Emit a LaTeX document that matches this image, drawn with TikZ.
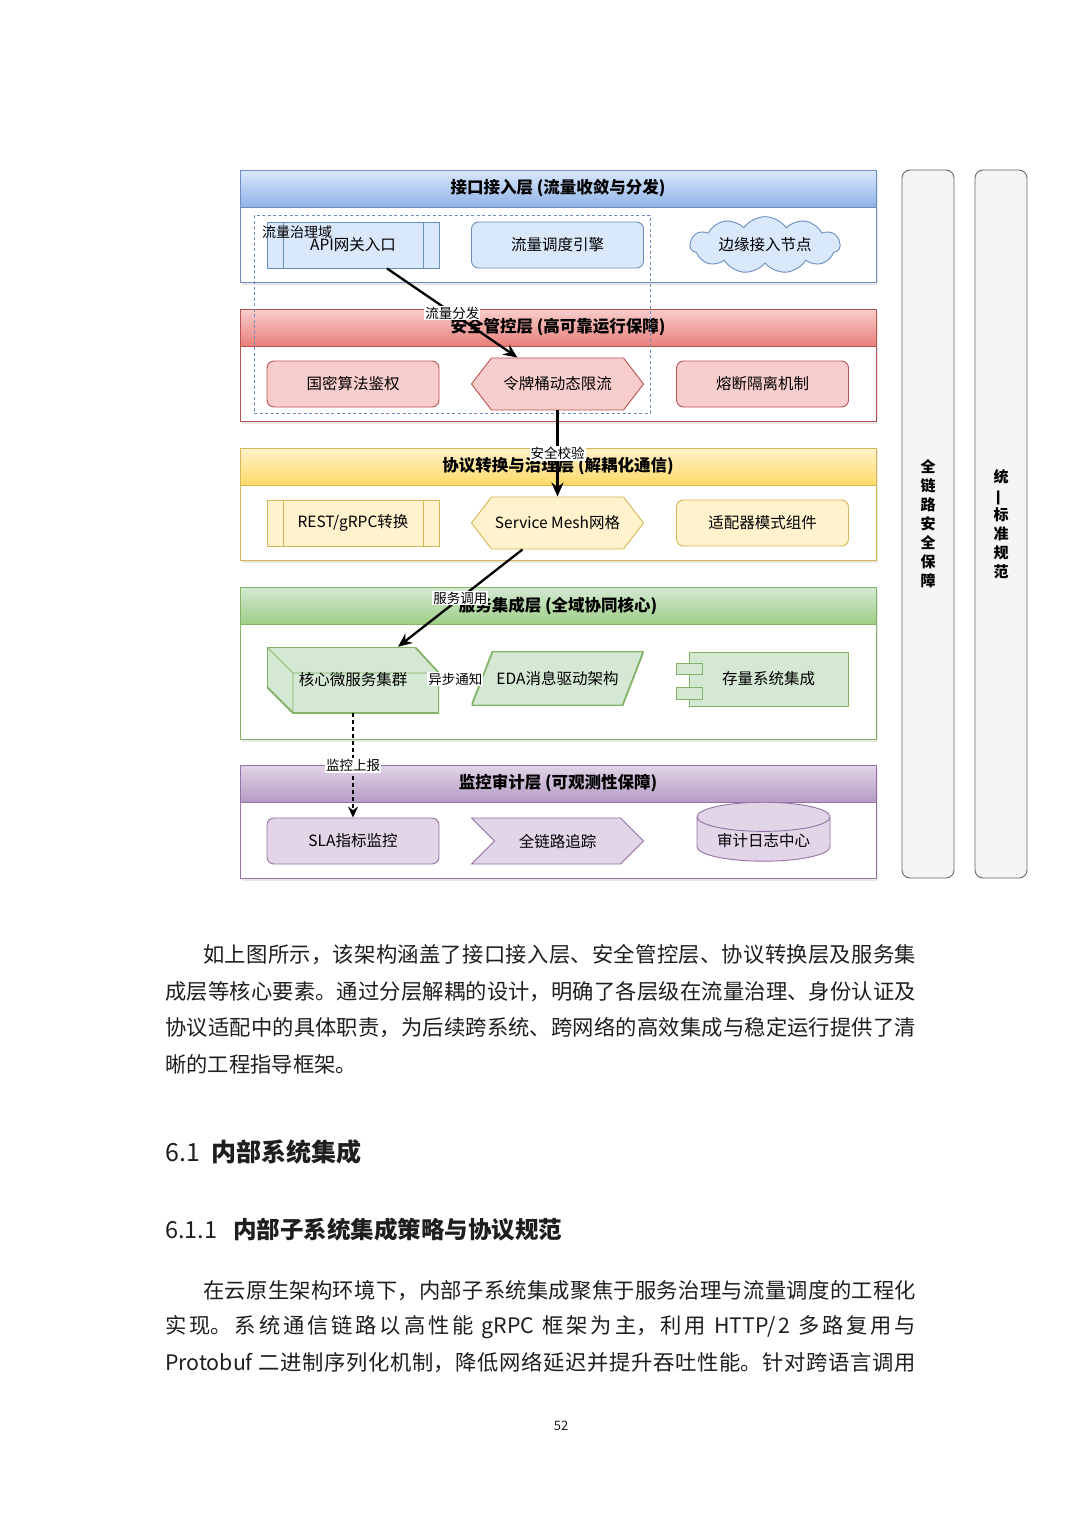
\documentclass[tikz,border=0pt]{standalone}
\usepackage{fontspec}
\setmainfont{Noto Sans CJK SC}
\usetikzlibrary{
  arrows.meta,
  positioning,
  shapes.geometric,
  shapes.symbols,
  shadows,
  calc,
}
\XeTeXlinebreaklocale "zh"
\XeTeXlinebreakskip=0pt plus 2pt

\definecolor{lnblue}{HTML}{6C8EBF}
\definecolor{bgblue}{HTML}{DAE8FC}
\definecolor{hdblue}{HTML}{8FB3E6}
\definecolor{lnred}{HTML}{B85450}
\definecolor{bgred}{HTML}{F8CECC}
\definecolor{hdred}{HTML}{EA7F7B}
\definecolor{lnyellow}{HTML}{D6B656}
\definecolor{bgyellow}{HTML}{FFF2CC}
\definecolor{hdyellow}{HTML}{FFD966}
\definecolor{lngreen}{HTML}{82B366}
\definecolor{bggreen}{HTML}{D5E8D4}
\definecolor{hdgreen}{HTML}{9DCF86}
\definecolor{lnpurple}{HTML}{9673A6}
\definecolor{bgpurple}{HTML}{E1D5E7}
\definecolor{hdpurple}{HTML}{B59BC4}
\definecolor{bargray}{HTML}{F5F5F5}
\definecolor{barline}{HTML}{666666}
\definecolor{inkgray}{HTML}{1E1E1E}

\newcommand{\fsz}[1]{\fontsize{#1}{#1}\selectfont}
\def\ppb{path picture bounding box}

\begin{document}
\begin{tikzpicture}[x=1pt, y=-1pt,
    laybox/.style={draw=ln#1, fill=white, line width=.9pt,
      drop shadow={shadow xshift=2pt, shadow yshift=-3pt, opacity=.18}},
    band/.style={draw=ln#1, top color=bg#1, bottom color=hd#1, line width=.9pt},
    laytitle/.style={font=\fsz{16.5}\bfseries, inner sep=1pt},
    part/.style={draw=ln#1, fill=bg#1, line width=.9pt, minimum width=172pt,
      minimum height=46pt, inner sep=2pt, font=\fsz{15.5}},
    rbox/.style={part=#1, rounded corners=7pt},
    proc/.style={part=#1, path picture={
        \draw[ln#1, line width=.9pt]
          ([xshift=16pt]\ppb.north west) -- ([xshift=16pt]\ppb.south west)
          ([xshift=-16pt]\ppb.north east) -- ([xshift=-16pt]\ppb.south east);}},
    hexa/.style={part=#1, signal, signal to=east and west,
      signal pointer angle=105, minimum height=52pt},
    chev/.style={part=#1, signal, signal from=west, signal to=east,
      signal pointer angle=90},
    slant/.style={minimum width=172pt, minimum height=54pt, inner sep=2pt,
      font=\fsz{15.5}, path picture={
        \filldraw[fill=bg#1, draw=ln#1, line width=1.8pt]
          ([xshift=21pt]\ppb.north west) -- (\ppb.north east)
          -- ([xshift=-21pt]\ppb.south east) -- (\ppb.south west) -- cycle;}},
    cubebox/.style={minimum width=172pt, minimum height=66pt, inner sep=2pt,
      font=\fsz{15.5}, path picture={
        \filldraw[fill=bg#1, draw=ln#1, line width=1.8pt, line join=round]
          (\ppb.north west) -- ([xshift=-24pt]\ppb.north east)
          -- ([yshift=-26pt]\ppb.north east) -- (\ppb.south east)
          -- ([xshift=26pt]\ppb.south west) -- ([yshift=26pt]\ppb.south west) -- cycle;
        \draw[ln#1, line width=.9pt]
          (\ppb.north west) -- ([xshift=26pt,yshift=-26pt]\ppb.north west)
          -- ([yshift=-26pt]\ppb.north east)
          ([xshift=26pt,yshift=-26pt]\ppb.north west) -- ([xshift=26pt]\ppb.south west);}},
    flow/.style={draw=black, line width=2.3pt, -{Stealth[length=14pt, width=12pt]}},
    edgetxt/.style={fill=white, inner sep=1pt, font=\fsz{13.5}},
    bar/.style={draw=barline, fill=bargray, rounded corners=8pt, line width=.9pt,
      minimum width=52pt, minimum height=708pt, align=center,
      font=\fontsize{15}{19}\selectfont\bfseries},
    bodyline/.style={anchor=west, inner sep=0pt, align=justify, text=inkgray,
      font=\fsz{21.3}, execute at begin node={\parindent=0pt\noindent\parfillskip=0pt\relax}},
    bodyend/.style={anchor=west, inner sep=0pt, text=inkgray, font=\fsz{21.3}},
  ]
  \fill[white] (0,0) rectangle (1080,1528);
  \useasboundingbox (0,0) rectangle (1080,1528);

  % five layers
  \foreach \n/\ya/\yb/\c/\txt in {
      acc/170/282/blue/{接口接入层 (流量收敛与分发)},
      sec/309/421/red/{安全管控层 (高可靠运行保障)},
      pro/448/560/yellow/{协议转换与治理层 (解耦化通信)},
      svc/587/739/green/{服务集成层 (全域协同核心)},
      mon/765/878/purple/{监控审计层 (可观测性保障)}}
  {
    \draw[laybox=\c] (240,\ya) rectangle (876,\yb);
    \draw[band=\c] (240,\ya) rectangle (876,\ya+37);
    \node[laytitle] (\n) at (558,\ya+18.5) {\txt};
  }

  % traffic domain
  \node[draw=lnblue, dash pattern=on 3pt off 2.5pt, line width=.8pt,
    minimum width=396pt, minimum height=198pt] (domain) at (452,314) {};

  % access layer
  \node[proc=blue] (api) at (353,245) {API网关入口};
  \node[rbox=blue] (sched) at (557.5,245) {流量调度引擎};
  \node[part=blue, cloud, cloud puffs=11, cloud puff arc=110, aspect=3.6,
    minimum width=150pt, minimum height=40pt] (edgeacc) at (765,245) {边缘接入节点};
  \node[anchor=west, inner sep=0pt, font=\fsz{14}] (domtxt) at (262,232) {流量治理域};

  % security layer
  \node[rbox=red] (sm) at (353,384) {国密算法鉴权};
  \node[hexa=red] (bucket) at (557.5,384) {令牌桶动态限流};
  \node[rbox=red] (fuse) at (762.5,384) {熔断隔离机制};

  % protocol layer
  \node[proc=yellow] (rest) at (353,523) {REST/gRPC转换};
  \node[hexa=yellow] (mesh) at (557.5,523) {Service Mesh网格};
  \node[rbox=yellow] (adapt) at (762.5,523) {适配器模式组件};

  % service layer
  \node[cubebox=green] (core) at (353,680) {核心微服务集群};
  \node[slant=green] (eda) at (557.5,678.5) {EDA消息驱动架构};
  \node[part=green, minimum width=159pt, minimum height=54pt] (comp) at (768.5,679) {存量系统集成};
  \draw[lngreen, fill=bggreen, line width=.9pt]
    ([xshift=-12pt,yshift=16pt]comp.west) rectangle ([xshift=14pt,yshift=5pt]comp.west)
    ([xshift=-12pt,yshift=-8pt]comp.west) rectangle ([xshift=14pt,yshift=-20pt]comp.west);

  % monitor layer
  \node[rbox=purple] (sla) at (353,841) {SLA指标监控};
  \node[chev=purple] (trace) at (557.5,841) {全链路追踪};
  \node[part=purple, cylinder, shape border rotate=90, aspect=.3,
    minimum width=133pt, minimum height=58pt] (audit) at (763.5,841) {审计日志中心};

  % flows
  \draw[flow] ([xshift=34pt]api.south) -- node[edgetxt] {流量分发} ([xshift=-40pt]bucket.north);
  \draw[flow] (bucket.south) -- node[edgetxt] {安全校验} (mesh.north);
  \draw[flow] ([xshift=-35pt]mesh.south) -- node[edgetxt] {服务调用} ([xshift=45pt]core.north);
  \draw[black, thin] (core.east) -- node[edgetxt] {异步通知} (eda.west);
  \draw[black, line width=1.3pt, dash pattern=on 4pt off 3pt, -{Stealth[length=11pt, width=10pt]}]
    (core.south) -- node[edgetxt] {监控上报} (sla.north);

  % side bars
  \node[bar] (guard) at (928,524) {全\\链\\路\\安\\全\\保\\障};
  \node[bar] (norm) at (1001,524) {统\\\rotatebox[origin=c]{90}{一}\\标\\准\\规\\范};

  % text below
  \node[bodyline, text width=713pt] (p1a) at (203,955) {如上图所示，该架构涵盖了接口接入层、安全管控层、协议转换层及服务集};
  \node[bodyline, text width=751pt] (p1b) at (165,992) {成层等核心要素。通过分层解耦的设计，明确了各层级在流量治理、身份认证及};
  \node[bodyline, text width=751pt] (p1c) at (165,1028) {协议适配中的具体职责，为后续跨系统、跨网络的高效集成与稳定运行提供了清};
  \node[bodyend] (p1d) at (165,1064) {晰的工程指导框架。};

  \node[anchor=west, inner sep=0pt, text=inkgray, font=\fsz{25}\bfseries] (h61) at (165,1152)
    {{\mdseries 6.1}\hspace{12pt}内部系统集成};
  \node[anchor=west, inner sep=0pt, text=inkgray, font=\fsz{23.5}\bfseries] (h611) at (165,1230)
    {{\mdseries 6.1.1}\hspace{16pt}内部子系统集成策略与协议规范};

  \node[bodyline, text width=713pt] (p2a) at (203,1291) {在云原生架构环境下，内部子系统集成聚焦于服务治理与流量调度的工程化};
  \node[bodyline, text width=751pt] (p2b) at (165,1327) {实现。系统通信链路以高性能 gRPC 框架为主，利用 HTTP/2 多路复用与};
  \node[bodyline, text width=751pt] (p2c) at (165,1363) {Protobuf 二进制序列化机制，降低网络延迟并提升吞吐性能。针对跨语言调用};

  \node[font=\fsz{13}, text=inkgray] (pageno) at (561,1426) {52};
\end{tikzpicture}
\end{document}
